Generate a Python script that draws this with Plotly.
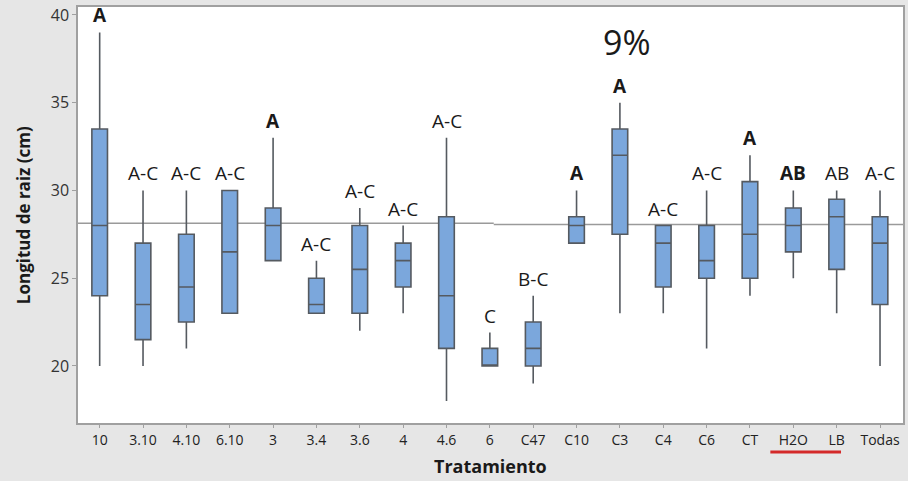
import plotly.graph_objects as go

# ---- data ----
categories = ["10", "3.10", "4.10", "6.10", "3", "3.4", "3.6", "4", "4.6", "6",
              "C47", "C10", "C3", "C4", "C6", "CT", "H2O", "LB", "Todas"]
lower_whisker = [20, 20, 21, 23, 26, 23, 22, 23, 18, 20, 19, 27, 23, 23, 21, 24, 25, 23, 20]
q1_values     = [24, 21.5, 22.5, 23, 26, 23, 23, 24.5, 21, 20, 20, 27, 27.5, 24.5, 25, 25, 26.5, 25.5, 23.5]
medians       = [28, 23.5, 24.5, 26.5, 28, 23.5, 25.5, 26, 24, 20, 21, 28, 32, 27, 26, 27.5, 28, 28.5, 27]
q3_values     = [33.5, 27, 27.5, 30, 29, 25, 28, 27, 28.5, 21, 22.5, 28.5, 33.5, 28, 28, 30.5, 29, 29.5, 28.5]
upper_whisker = [39, 30, 30, 30, 33, 26, 29, 28, 33, 21.9, 24, 30, 35, 28, 30, 32, 30, 30, 30]
group_letters = ["A", "A-C", "A-C", "A-C", "A", "A-C", "A-C", "A-C", "A-C", "C",
                 "B-C", "A", "A", "A-C", "A-C", "A", "AB", "AB", "A-C"]
letters_bold  = [True, False, False, False, True, False, False, False, False, False,
                 False, True, True, False, False, True, True, False, False]
overall_mean_left = 28.13
overall_mean_right = 28.06
title_text = "9%"

FONT = "Open Sans, Noto Sans, sans-serif"

fig = go.Figure()
fig.add_trace(go.Box(
    x=categories,
    q1=q1_values, median=medians, q3=q3_values,
    lowerfence=lower_whisker, upperfence=upper_whisker,
    width=0.36,
    fillcolor="#7BA7DC",
    line=dict(color="#555a60", width=1.6),
    whiskerwidth=0,
    boxpoints=False,
    showlegend=False,
    hoverinfo="skip",
))

# overall reference line (two segments as in the original)
n = len(categories)
split = 9.09
fig.add_shape(type="line", xref="x", yref="y", x0=-0.5, x1=split,
              y0=overall_mean_left, y1=overall_mean_left,
              line=dict(color="#9a9a9a", width=1.6), layer="below")
fig.add_shape(type="line", xref="x", yref="y", x0=split, x1=n - 0.47,
              y0=overall_mean_right, y1=overall_mean_right,
              line=dict(color="#9a9a9a", width=1.6), layer="below")

# group letters (x given as category index)
for i, (lab, top, b) in enumerate(zip(group_letters, upper_whisker, letters_bold)):
    fig.add_annotation(
        x=i, y=top, xref="x", yref="y",
        text=f"<b>{lab}</b>" if b else lab,
        showarrow=False, yanchor="middle", yshift=17,
        font=dict(family=FONT, size=19, color="#1a1a1a"),
    )

# title
fig.add_annotation(x=0.665, y=0.916, xref="paper", yref="paper",
                   text=title_text, showarrow=False,
                   font=dict(family=FONT, size=34, color="#1a1a1a"),
                   xanchor="center", yanchor="middle")

# axis titles
fig.add_annotation(x=-0.0665, y=0.5, xref="paper", yref="paper",
                   text="<b>Longitud de raiz (cm)</b>", textangle=-90,
                   showarrow=False, xanchor="center", yanchor="middle",
                   font=dict(family=FONT, size=17, color="#1a1a1a"))
fig.add_annotation(x=0.5, y=-0.103, xref="paper", yref="paper",
                   text="<b>Tratamiento</b>", showarrow=False,
                   xanchor="center", yanchor="middle",
                   font=dict(family=FONT, size=18, color="#1a1a1a"))

# red underline under H2O and LB
fig.add_shape(type="line", xref="x", yref="paper",
              x0=16 - 0.53, x1=17 + 0.1, y0=-0.0697, y1=-0.0697,
              line=dict(color="#d42a2a", width=3))

fig.update_layout(
    width=908, height=481,
    margin=dict(l=78, r=3, t=7, b=58),
    paper_bgcolor="#e6e6e6",
    plot_bgcolor="white",
    font=dict(family=FONT, color="#222222"),
    xaxis=dict(
        type="category", range=[-0.5, n - 0.47],
        showline=True, linecolor="#a0a0a0", linewidth=1.5, mirror=True,
        ticks="outside", ticklen=3, tickcolor="#a0a0a0",
        tickfont=dict(family=FONT, size=14, color="#222222"),
        showgrid=False, zeroline=False,
    ),
    yaxis=dict(
        range=[16.75, 40.45],
        tickvals=[20, 25, 30, 35, 40],
        showline=True, linecolor="#a0a0a0", linewidth=1.5, mirror=True,
        ticks="outside", ticklen=4, tickcolor="#a0a0a0",
        tickfont=dict(family=FONT, size=16, color="#333333"),
        showgrid=False, zeroline=False,
    ),
)

fig.write_html("out.html")
